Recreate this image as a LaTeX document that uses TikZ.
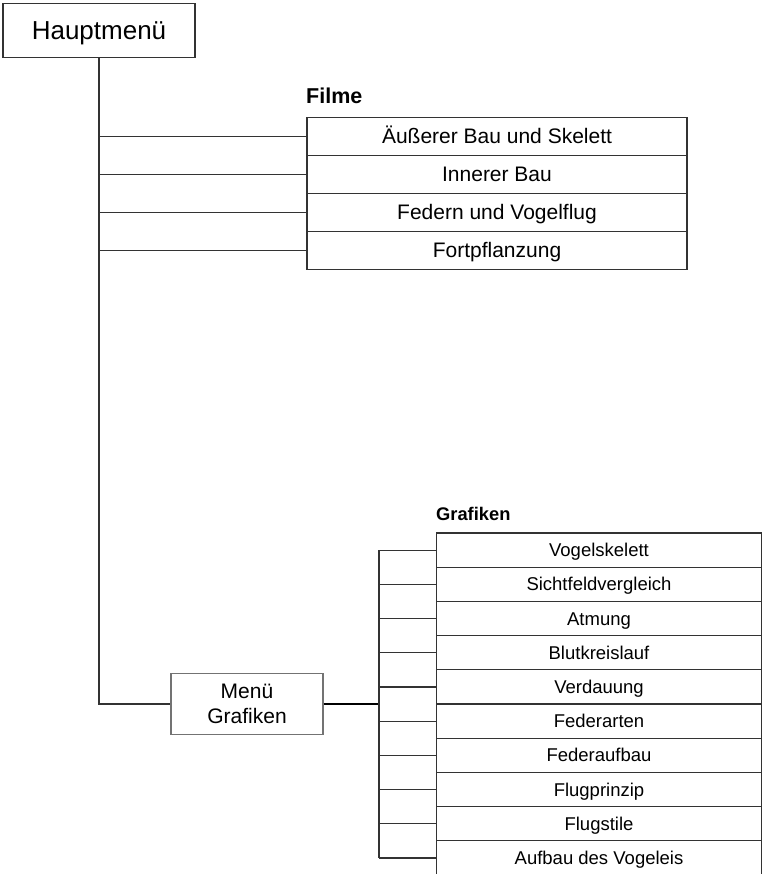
\documentclass[tikz,border=0pt]{standalone}
\usepackage{fontspec}
\setmainfont{Liberation Sans}

\begin{document}
\begin{tikzpicture}[x=1pt, y=-1pt,
    link/.style={draw=black!80, line width=1.2pt},
    menubox/.style={link, inner sep=0pt, text depth=0pt},
    filmrow/.style={menubox, minimum width=380pt, minimum height=38pt, text height=15pt, font=\fontsize{21}{25}\selectfont},
    grafrow/.style={menubox, minimum width=325.5pt, minimum height=34.2pt, text height=13.3pt, font=\fontsize{18.5}{22}\selectfont},
    grouplabel/.style={anchor=base west, inner sep=0pt}]
    \useasboundingbox (0,0) rectangle (764,874);

    % Main menu
    \node[menubox, minimum width=192pt, minimum height=54pt, text height=18.6pt, font=\fontsize{26}{31}\selectfont] (haupt) at (99,30.5) {Hauptmenü};

    % Films
    \node[grouplabel, font=\bfseries\fontsize{21.5}{25}\selectfont] (filmlabel) at (306,103.3) {Filme};
    \node[filmrow] (film1) at (497,136.3) {Äußerer Bau und Skelett};
    \node[filmrow] (film2) at (497,174.3) {Innerer Bau};
    \node[filmrow] (film3) at (497,212.3) {Federn und Vogelflug};
    \node[filmrow] (film4) at (497,250.3) {Fortpflanzung};

    \draw[link] (haupt.south |- film1.west) -- (film1.west);
    \draw[link] (haupt.south |- film2.west) -- (film2.west);
    \draw[link] (haupt.south |- film3.west) -- (film3.west);
    \draw[link] (haupt.south |- film4.west) -- (film4.west);

    % Graphics submenu
    \node[menubox, draw=black!55, minimum width=152pt, minimum height=61pt, align=center, font=\fontsize{21}{24.7}\selectfont] (grafmenu) at (247,704) {Menü\\Grafiken};
    \draw[link] (haupt.south) |- (grafmenu.west);

    \node[grouplabel, font=\bfseries\fontsize{18.3}{22}\selectfont] (graflabel) at (436,520.7) {Grafiken};
    \node[grafrow] (graf1) at (599,550.1) {Vogelskelett};
    \node[grafrow] (graf2) at (599,584.3) {Sichtfeldvergleich};
    \node[grafrow] (graf3) at (599,618.5) {Atmung};
    \node[grafrow] (graf4) at (599,652.7) {Blutkreislauf};
    \node[grafrow] (graf5) at (599,686.9) {Verdauung};
    \node[grafrow] (graf6) at (599,721.1) {Federarten};
    \node[grafrow] (graf7) at (599,755.3) {Federaufbau};
    \node[grafrow] (graf8) at (599,789.5) {Flugprinzip};
    \node[grafrow] (graf9) at (599,823.7) {Flugstile};
    \node[grafrow] (graf10) at (599,857.9) {Aufbau des Vogeleis};

    % Bus between submenu and graphics
    \coordinate (bus) at (379,704);
    \draw[link, draw=black, line width=1.8pt] (grafmenu.east) -- (bus);
    \draw[link] (bus |- graf1.west) -- (bus |- graf10.west);
    \draw[link] (bus |- graf1.west) -- (graf1.west);
    \draw[link] (bus |- graf2.west) -- (graf2.west);
    \draw[link] (bus |- graf3.west) -- (graf3.west);
    \draw[link] (bus |- graf4.west) -- (graf4.west);
    \draw[link] (bus |- graf5.west) -- (graf5.west);
    \draw[link] (bus |- graf6.west) -- (graf6.west);
    \draw[link] (bus |- graf7.west) -- (graf7.west);
    \draw[link] (bus |- graf8.west) -- (graf8.west);
    \draw[link] (bus |- graf9.west) -- (graf9.west);
    \draw[link] (bus |- graf10.west) -- (graf10.west);
\end{tikzpicture}
\end{document}
